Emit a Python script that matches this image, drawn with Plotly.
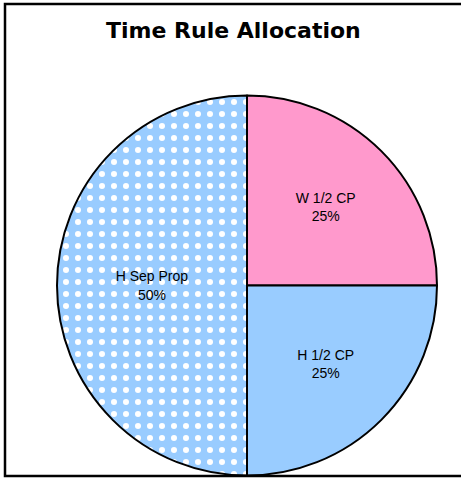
import plotly.graph_objects as go

labels = ["W 1/2 CP", "H 1/2 CP", "H Sep Prop"]
values = [25, 25, 50]
colors = ["#FF99CC", "#99CCFF", "#99CCFF"]
patterns = ["", "", "."]
title_text = "Time Rule Allocation"

W, H = 461, 478

fig = go.Figure(
    go.Pie(
        labels=labels,
        values=values,
        sort=False,
        direction="clockwise",
        rotation=0,
        marker=dict(
            colors=colors,
            line=dict(color="black", width=2),
            pattern=dict(
                shape=patterns,
                fgcolor="white",
                bgcolor=colors,
                fillmode="replace",
                size=12,
                solidity=0.2,
            ),
        ),
        textinfo="label+percent",
        textposition="inside",
        insidetextorientation="horizontal",
        textfont=dict(family="Liberation Sans, Arial", size=14, color="black"),
        domain=dict(x=[57 / W, 437 / W], y=[(H - 476) / H, (H - 95) / H]),
        hoverinfo="label+percent",
    )
)

fig.update_layout(
    width=W,
    height=H,
    margin=dict(l=0, r=0, t=0, b=0),
    showlegend=False,
    paper_bgcolor="white",
    plot_bgcolor="white",
    annotations=[
        dict(
            text="<b>" + title_text + "</b>",
            x=233 / W,
            y=1 - 31 / H,
            xref="paper",
            yref="paper",
            xanchor="center",
            yanchor="middle",
            showarrow=False,
            font=dict(family="DejaVu Sans", size=22, color="black"),
        )
    ],
    shapes=[
        dict(
            type="rect",
            xref="paper",
            yref="paper",
            x0=5 / W,
            x1=1.05,
            y0=(H - 476) / H,
            y1=1 - 4 / H,
            line=dict(color="black", width=2.5),
            fillcolor="rgba(0,0,0,0)",
            layer="above",
        )
    ],
)

fig.write_html(
    "out.html",
    config={"displayModeBar": False},
    post_script="document.body.style.margin='0px';",
)
